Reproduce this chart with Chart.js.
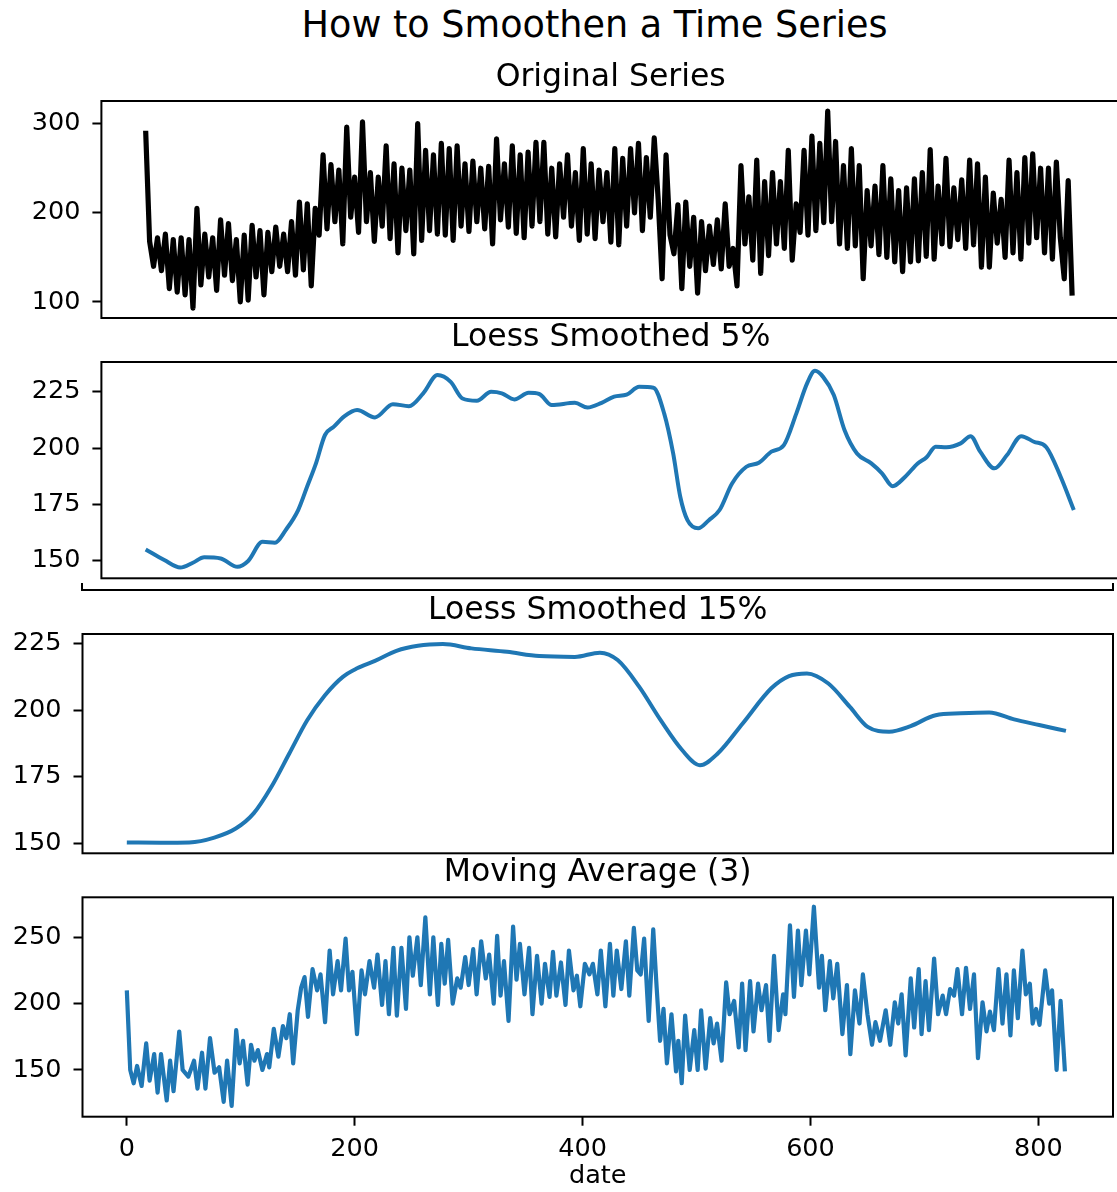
<!DOCTYPE html>
<html>
<head>
<meta charset="utf-8">
<title>How to Smoothen a Time Series</title>
<script src="https://cdn.jsdelivr.net/npm/chart.js@4.4.1/dist/chart.umd.min.js"></script>
<style>
  html, body { margin: 0; padding: 0; background: #fff; width: 1117px; height: 1192px; overflow: hidden; }
  body { position: relative; }
  canvas { position: absolute; left: 0; }
  #suptitle { position: absolute; top: 7.3px; left: 594.5px; transform: translateX(-50%);
              font: 36.6px/36.6px "DejaVu Sans"; color: #000; white-space: nowrap; }
  /* bottom edge of the panel above, left over where the two figures were joined */
  #seam { position: absolute; left: 81px; top: 583px; width: 1033px; height: 8px;
          box-sizing: border-box; border: 2px solid #000; border-top: 0; }
</style>
</head>
<body>
<div id="suptitle">How to Smoothen a Time Series</div>
<div id="seam"></div>
<canvas id="c1"></canvas>
<canvas id="c2"></canvas>
<canvas id="c3"></canvas>
<canvas id="c4"></canvas>
<script>
// ---- data ----
// original series, one value every 3.5 days starting at day 0
const origStep = 3.5;
const origValues = [
  292,168,140,172,135,176,115,170,111,172,
  108,170,93,205,119,176,128,172,113,192,
  130,188,124,170,100,175,102,186,128,180,
  108,178,134,184,140,176,134,190,130,212,
  136,210,118,205,175,265,182,254,190,248,
  165,296,195,240,178,302,190,245,168,240,
  185,275,171,255,155,250,180,248,154,300,
  169,270,180,265,176,278,175,272,169,275,
  185,255,179,258,190,250,182,252,165,283,
  192,255,184,275,177,265,172,268,185,279,
  190,279,176,250,173,255,195,265,185,245,
  169,272,176,255,171,248,190,245,167,272,
  164,261,185,272,200,278,180,262,195,284,
  215,126,265,175,154,209,115,212,140,195,
  110,190,135,185,142,192,137,210,140,160,
  118,253,165,218,147,259,132,235,152,245,
  165,235,160,270,147,210,178,270,175,286,
  180,278,189,314,190,280,165,253,160,272,
  163,253,126,225,163,230,153,253,150,238,
  145,225,134,228,145,238,146,245,151,271,
  148,230,165,261,162,228,170,237,160,259,
  164,255,139,240,139,222,166,215,150,259,
  155,245,148,262,166,266,172,250,155,250,
  148,257,172,126,236,107
];

const loess5Date = [0,16.5,30.8,41.9,52,66.6,81.5,91,103.7,114.8,
  124.3,135.4,143.3,151.2,159.2,167.1,176.6,187.7,203.6,219.5,
  233.7,246.4,259.1,270.8,281.3,294,306.7,316.2,327.3,340,
  349.4,360.5,381.1,392.2,404.8,415.9,427,438.1,450.8,460.3,
  468.3,474.6,481,490.5,500,509.5,520.6,533.3,544.4,555.5,
  566.6,577.7,587.2,594.2,601.4,610.9,620.4,631.5,644.2,653.7,
  663.2,674.3,685.4,693.3,701.3,710.8,723.5,732.4,740.9,753.6,
  764.7,777.4,788.5,799.6,812.3,824];
const loess5Value = [155,150.3,147,149.1,151.5,151,147.3,149.9,158.4,158,
  163.6,172.5,182.8,193.2,205.8,209.5,214.2,216.9,213.6,219.5,
  218.6,224.3,232.4,229.4,222,221,225,224.3,221.6,224.5,
  224,219.1,220.1,218,220.1,222.8,223.7,227.2,226.8,215.4,
  197.6,178.4,168,164.4,168,172.5,184.3,191.7,193.5,198.4,
  201.3,215.4,228.7,234.3,231.6,223.5,208,197.6,193.2,188.8,
  183.1,187.3,193.2,195.9,200.6,200.4,202.1,205.3,198.4,191,
  196.9,205.3,202.8,200.4,187.3,172.5];

const loess15Date = [0,29.8,54.8,76.8,95.6,111.3,126.9,142.6,158.3,173.9,
  189.6,202.1,217.8,236.6,255.5,277.4,302.4,333.8,362,393.2,
  415.2,430.8,449.6,468.5,487.3,503,518.6,540.5,565.6,581.2,
  596.9,615.7,634.6,650.2,669,687.9,709.8,731.8,756.8,778.7,
  800.7,824.2];
const loess15Value = [150.3,150.2,150.3,152.1,155.5,161.2,171.2,183.7,196.2,205.6,
  212.5,215.7,218.5,222.3,224.2,224.8,223.2,221.9,220.3,220,
  221.6,218.8,208.8,196.2,185,179.3,183.7,195,208.2,212.8,
  213.8,210,201.2,193.7,191.9,194,198.1,198.8,199.1,196.5,
  194.4,192.2];

const maDate = [0,3,6,9,13,17,20,24,27,30,
  35,38,41,46,49,54,59,62,66,69,
  73,77,81,85,88,92,96,99,102,106,
  109,112,115,119,123,125,129,133,137,140,
  143,146,150,153,156,159,163,167,170,174,
  178,181,185,188,192,195,198,202,206,209,
  213,217,220,224,227,230,234,237,241,245,
  248,251,255,258,262,266,269,273,276,279,
  282,286,290,293,297,300,304,307,311,315,
  318,322,325,328,331,335,339,342,345,349,
  353,356,360,364,367,371,374,377,381,385,
  388,392,395,398,402,406,409,413,416,420,
  424,427,430,434,438,441,445,448,451,454,
  458,462,465,468,471,474,478,482,484,487,
  490,494,498,501,504,508,512,515,518,522,
  526,529,533,537,540,543,547,550,554,557,
  561,564,568,572,576,578,582,585.5,589,592,
  596,599,603,607.5,610,613,617,620,623.5,628,
  632,635,639,643,646,650,654,657,661,666,
  670,674,677,680,683.5,688,691,695,697.5,701,
  704,708.5,712,716,719,722.5,726,729,733,736.5,
  740,743.5,747,751,754.5,757.5,761,765,768.5,772,
  775.5,778.5,782,786,789,792.5,795,798,801,806,
  809.5,812,816,819.5,823.3];
const maValue = [210,150,140,153,138,170,142,162,133,162,
  127,157,134,179,150,145,157,136,163,136,
  174,148,152,126,157,123,180,155,172,139,
  169,157,165,150,162,152,181,160,183,174,
  192,155,195,212,220,190,226,210,222,186,
  240,207,232,210,249,210,224,177,225,207,
  232,212,237,199,232,192,242,191,242,196,
  250,221,250,214,265,207,250,199,245,215,
  248,200,219,212,235,214,241,207,247,219,
  237,200,251,206,232,187,258,218,245,207,
  242,192,236,200,230,205,239,206,231,199,
  240,210,221,198,230,222,230,207,240,198,
  245,206,240,211,247,206,257,225,222,249,
  187,256,212,172,196,155,192,149,172,140,
  191,150,180,150,195,151,189,170,185,157,
  216,192,202,167,215,165,217,179,215,195,
  214,172,236,180,207,192,259,205,255,214,
  255,222,273,212,236,195,232,204,230,177,
  214,162,210,185,222,192,169,186,172,195,
  169,201,185,207,161,219,182,226,177,217,
  180,234,192,206,192,211,206,226,192,227,
  196,222,159,201,179,194,180,226,185,222,
  176,225,189,240,207,215,185,196,184,225,
  200,210,150,202,149];

const xTicks = [0, 200, 400, 600, 800];
const origTicks = [100, 200, 300];
const loessTicks = [150, 175, 200, 225];
const maTicks = [150, 200, 250];

const origDate = origValues.map((v, i) => i * origStep);

// ---- drawing ----
Chart.defaults.font.family = "'DejaVu Sans', sans-serif";
Chart.defaults.color = '#000';

const FONT_TICK = 25.5;
const FONT_TITLE = 31.5;
const BLUE = '#1f77b4';

// matplotlib style box around the axes
const frameBox = {
  id: 'frameBox',
  afterDatasetsDraw(chart) {
    const a = chart.chartArea, ctx = chart.ctx;
    ctx.save();
    ctx.strokeStyle = '#000';
    ctx.lineWidth = 2;
    ctx.strokeRect(a.left, a.top, a.right - a.left, a.bottom - a.top);
    ctx.restore();
  }
};

function drawPanel(id, p) {
  const cv = document.getElementById(id);
  const top = Math.floor(p.frame[1] - 60);
  const areaTop = p.frame[1] - top;
  const areaBottom = p.frame[3] - top;
  const height = p.showX ? 1192 - top : Math.ceil(areaBottom + 30);
  cv.width = p.width;
  cv.height = height;
  cv.style.top = top + 'px';

  // place the title so its baseline lands where the reference has it
  const padTop = p.titleBase - 0.946 * FONT_TITLE - top;
  const padBottom = areaTop - padTop - 1.2 * FONT_TITLE;

  const tickGrid = { drawOnChartArea: false, drawTicks: true, tickLength: 9, tickWidth: 2, tickColor: '#000' };

  const xScale = {
    type: 'linear', min: p.xMin, max: p.xMax, display: p.showX,
    afterBuildTicks: s => { s.ticks = xTicks.map(v => ({ value: v })); },
    grid: tickGrid,
    border: { display: false },
    ticks: { font: { size: FONT_TICK }, color: '#000', padding: 8, maxRotation: 0, autoSkip: false },
    title: { display: true, text: 'date', font: { size: FONT_TICK }, color: '#000', padding: { top: 0, bottom: 0.4 } }
  };
  if (p.showX) xScale.afterFit = s => { s.height = height - areaBottom; };

  new Chart(cv, {
    type: 'line',
    data: {
      datasets: [{
        data: p.xs.map((x, i) => ({ x: x, y: p.ys[i] })),
        borderColor: p.color,
        borderWidth: p.lw,
        borderJoinStyle: 'round',
        pointRadius: 0,
        fill: false,
        tension: 0,
        cubicInterpolationMode: p.smooth ? 'monotone' : 'default'
      }]
    },
    options: {
      responsive: false,
      animation: false,
      devicePixelRatio: 1,
      layout: { padding: { left: 0, top: 0, right: p.width - p.frame[2], bottom: p.showX ? 0 : height - areaBottom } },
      plugins: {
        legend: { display: false },
        tooltip: { enabled: false },
        title: {
          display: true, text: p.title, fullSize: false, color: '#000',
          font: { size: FONT_TITLE, weight: 'normal' },
          padding: { top: padTop, bottom: padBottom }
        }
      },
      scales: {
        x: xScale,
        y: {
          min: p.yMin, max: p.yMax,
          afterBuildTicks: s => { s.ticks = p.yTicks.map(v => ({ value: v })); },
          afterFit: s => { s.width = p.frame[0]; },
          grid: tickGrid,
          border: { display: false },
          ticks: { font: { size: FONT_TICK }, color: '#000', padding: 12 }
        }
      }
    },
    plugins: [frameBox]
  });
}

drawPanel('c1', {
  title: 'Original Series', frame: [101.4, 101, 1120, 318], width: 1126, titleBase: 88.3,
  xs: origDate, ys: origValues, color: '#000', lw: 5.2, smooth: false, showX: false,
  xMin: -39.3, xMax: 865, yMin: 82, yMax: 325.4, yTicks: origTicks
});
drawPanel('c2', {
  title: 'Loess Smoothed 5%', frame: [101.4, 362, 1120, 578.3], width: 1126, titleBase: 348.3,
  xs: loess5Date, ys: loess5Value, color: BLUE, lw: 4, smooth: true, showX: false,
  xMin: -39.3, xMax: 865, yMin: 142.2, yMax: 238.2, yTicks: loessTicks
});
drawPanel('c3', {
  title: 'Loess Smoothed 15%', frame: [82.5, 634, 1113, 853.3], width: 1117, titleBase: 621.5,
  xs: loess15Date, ys: loess15Value, color: BLUE, lw: 4, smooth: true, showX: false,
  xMin: -38.9, xMax: 865.5, yMin: 146.2, yMax: 228.6, yTicks: loessTicks
});
drawPanel('c4', {
  title: 'Moving Average (3)', frame: [82.5, 897.3, 1113, 1116.7], width: 1117, titleBase: 884,
  xs: maDate, ys: maValue, color: BLUE, lw: 4.2, smooth: false, showX: true,
  xMin: -38.9, xMax: 865.5, yMin: 114.8, yMax: 280.1, yTicks: maTicks
});
</script>
</body>
</html>
